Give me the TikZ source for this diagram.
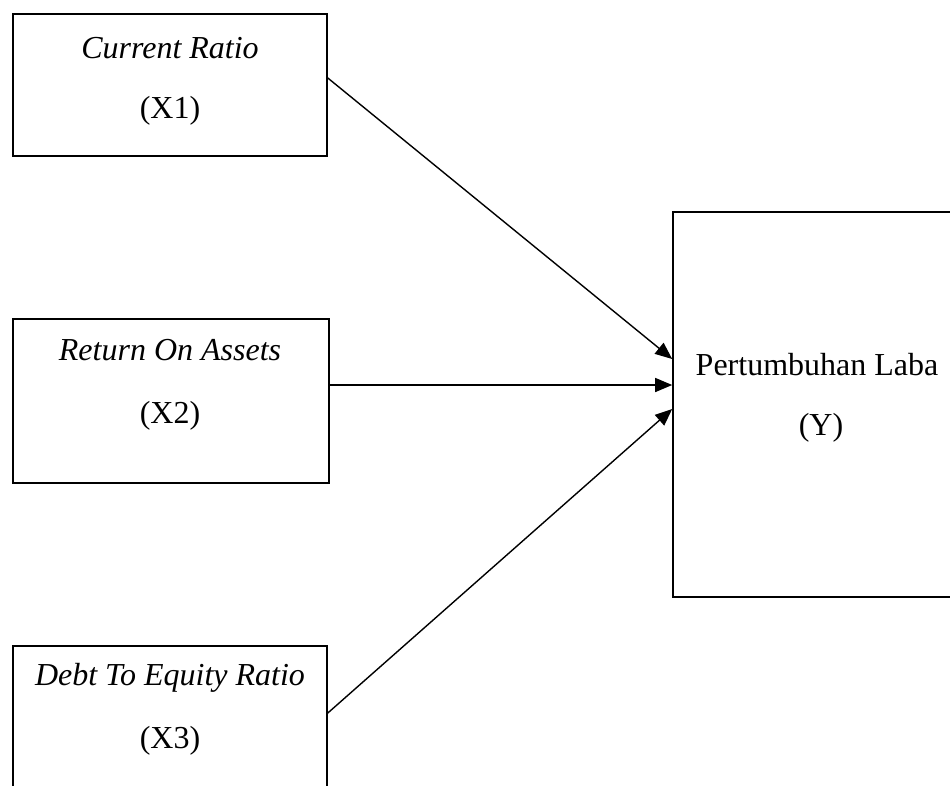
\documentclass[tikz,border=0pt]{standalone}
\usepackage{fontspec}
\setmainfont{Liberation Serif}
\usetikzlibrary{arrows.meta}
\begin{document}
\begin{tikzpicture}[x=1pt,y=-1pt,
  box/.style={draw, line width=1.6pt, rectangle, inner sep=0pt},
  lbl/.style={anchor=base, inner sep=0pt, font=\fontsize{32}{38}\selectfont},
  conn/.style={line width=1.4pt, -{Triangle[length=17pt,width=14pt]}}]
\useasboundingbox (0,0) rectangle (950,785);
\node[box, minimum width=314pt, minimum height=142pt] (x1) at (170,85) {};
\node[box, minimum width=316pt, minimum height=164pt] (x2) at (171,401) {};
\node[box, minimum width=314pt, minimum height=160pt] (x3) at (170,726) {};
\node[box, minimum width=290pt, minimum height=385pt] (y) at (818,404.5) {};
\node[lbl] (t1a) at (170,58) {\textit{Current Ratio}};
\node[lbl] (t1b) at (170,118) {(X1)};
\node[lbl] (t2a) at (170,360) {\textit{Return On Assets}};
\node[lbl] (t2b) at (170,423) {(X2)};
\node[lbl] (t3a) at (170,685) {\textit{Debt To Equity Ratio}};
\node[lbl] (t3b) at (170,748) {(X3)};
\node[lbl] (tya) at (817,375) {Pertumbuhan Laba};
\node[lbl] (tyb) at (821,435) {(Y)};
\coordinate (s1) at (x1.east |- 0,78);
\coordinate (s2) at (x2.east |- 0,385);
\coordinate (s3) at (x3.east |- 0,713);
\coordinate (e1) at (y.west |- 0,359);
\coordinate (e2) at (y.west |- 0,385);
\coordinate (e3) at (y.west |- 0,409);
\draw[conn] (s1) -- (e1);
\draw[conn] (s2) -- (e2);
\draw[conn] (s3) -- (e3);
\end{tikzpicture}
\end{document}
